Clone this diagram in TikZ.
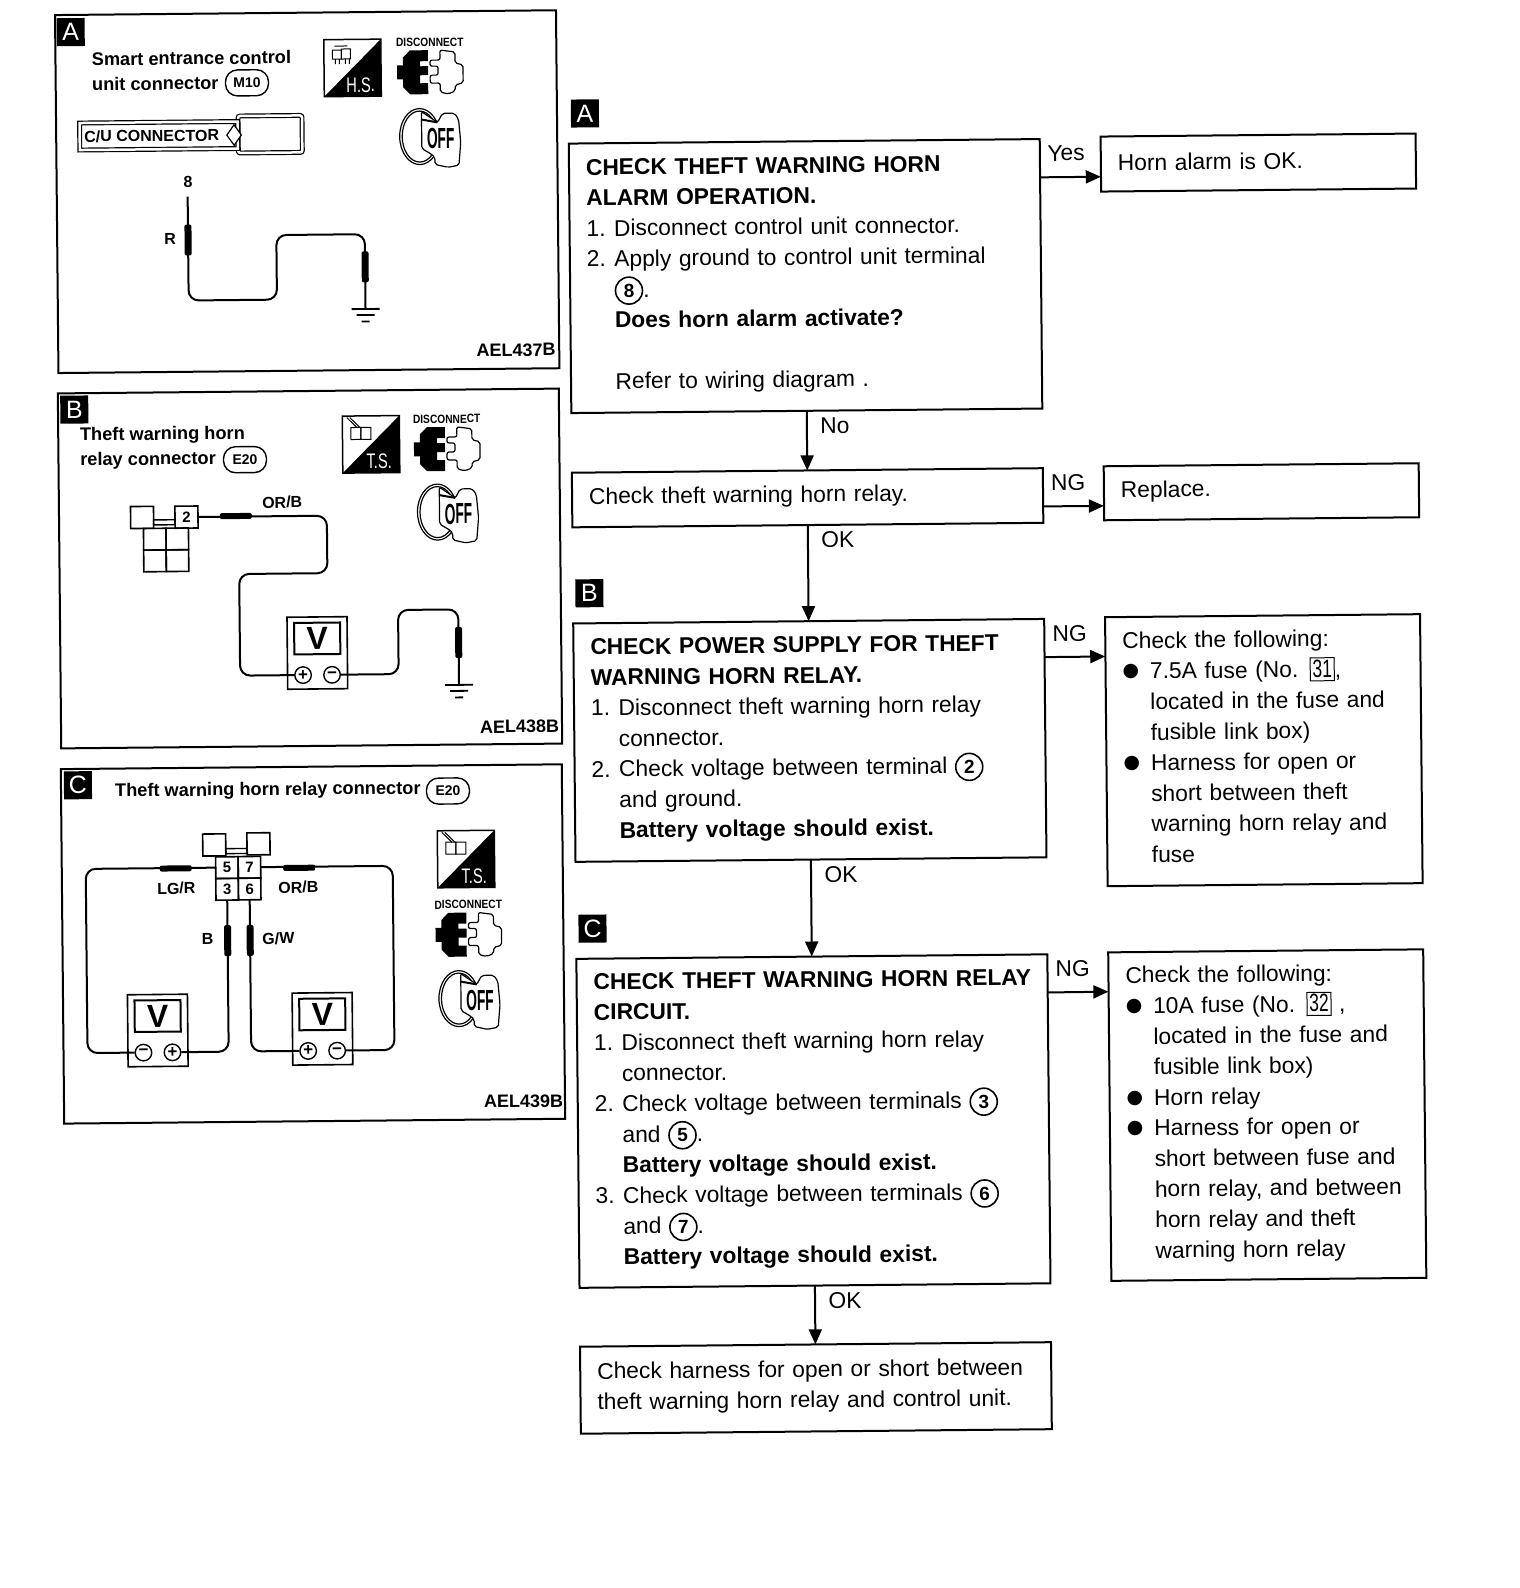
\documentclass[tikz,border=0pt]{standalone}
\usepackage{fontspec}
\setmainfont{Liberation Sans}
\newfontfamily\symfont{DejaVu Sans}
\newfontfamily\narrowfont[FakeStretch=0.7]{Liberation Sans}
\usetikzlibrary{shapes.geometric, arrows.meta, positioning}

\newcommand{\ind}{\hspace*{27.5pt}}
\newcommand{\itemno}[1]{\makebox[27.5pt][l]{#1}}
\newcommand{\cnum}[1]{\smash{\tikz[baseline=(cdigit.base)]\node[draw, circle, line width=1.6pt, inner sep=0pt, minimum width=27pt, minimum height=27pt, font=\fontsize{19}{19}\selectfont\bfseries] (cdigit) {#1};}}
\newcommand{\bul}{\makebox[27.5pt][l]{\raisebox{2.5pt}{\symfont\fontsize{19}{19}\selectfont ●}}}
\newcommand{\fuseno}[1]{\smash{\setlength{\fboxsep}{0pt}\setlength{\fboxrule}{1pt}\fbox{\makebox[23pt]{\narrowfont\fontsize{25}{25}\selectfont\rule[-3pt]{0pt}{22pt}#1}}}}

\tikzset{
    flowbox/.style={draw, line width=2pt, align=left, inner xsep=17pt, inner ysep=0pt, outer sep=0pt,
        font=\fontsize{22.8}{30.6}\selectfont, execute at end node={\par\vspace*{3pt}}},
    mainbox/.style={flowbox, text width=437pt},
    fixbox/.style={flowbox, text width=281pt},
    tagbox/.style={fill=black, text=white, inner sep=0pt, outer sep=0pt, minimum width=28pt, minimum height=28pt,
        font=\fontsize{25}{25}\selectfont},
    flowarrow/.style={line width=2pt, -{Triangle[length=15pt,width=13pt]}},
    flowlabel/.style={inner sep=0pt, font=\fontsize{22.8}{23}\selectfont},
    panel/.style={draw, line width=2pt, minimum width=501pt, inner sep=0pt, outer sep=0pt},
    panelhead/.style={anchor=west, align=left, inner sep=0pt, font=\fontsize{18.2}{25}\selectfont\bfseries},
    ovaltag/.style={draw, line width=1.4pt, rounded corners=12pt, minimum width=43pt, minimum height=26pt, inner sep=0pt,
        font=\fontsize{14}{14}\selectfont\bfseries},
    wirelabel/.style={inner sep=0pt, font=\fontsize{16}{16}\selectfont\bfseries},
    figcode/.style={anchor=east, inner sep=0pt, font=\fontsize{18}{18}\selectfont\bfseries},
    wire/.style={line width=2pt, rounded corners=10pt},
    vprobe/.style={fill=black, rounded corners=2pt, minimum width=7pt, minimum height=31pt, inner sep=0pt},
    hprobe/.style={fill=black, rounded corners=2pt, minimum width=32pt, minimum height=6pt, inner sep=0pt},
    pincell/.style={draw, line width=1.6pt, minimum width=22.5pt, minimum height=21.7pt, inner sep=0pt, outer sep=0pt,
        font=\fontsize{15}{15}\selectfont\bfseries},
    pincap/.style={draw, line width=1.6pt, minimum width=23pt, minimum height=22pt, inner sep=0pt, outer sep=0pt,
        font=\fontsize{15}{15}\selectfont\bfseries},
    pinbar/.style={draw, line width=1.4pt, minimum width=21.5pt, minimum height=5pt, inner sep=0pt, outer sep=0pt},
    termnode/.style={draw, circle, fill=white, line width=1.4pt, minimum size=16.5pt, inner sep=0pt,
        font=\fontsize{17}{17}\selectfont\bfseries},
    meter/.pic={
        \node[draw, line width=1.6pt, minimum width=60pt, minimum height=72pt, inner sep=0pt] (-case) at (0,0) {};
        \node[draw, line width=2pt, minimum width=46pt, minimum height=31.5pt, inner sep=0pt,
              font=\fontsize{32}{32}\selectfont\bfseries] (-face) at (0,-14.5) {V};
        \node[termnode] (-p) at ({-14.5*#1},22) {+};
        \node[termnode] (-m) at ({14.5*#1},22) {−};
    },
    groundsym/.pic={
        \coordinate (-top) at (0,0);
        \draw[line width=1.8pt] (-14,0) -- (14,0);
        \draw[line width=1.8pt] (-9,6) -- (9,6);
        \draw[line width=1.8pt] (-4,12.5) -- (4,12.5);
    },
    discon/.pic={
        \node[inner sep=0pt, xscale=0.85, font=\fontsize{12}{12}\selectfont\bfseries] (-text) at (0,-30) {DISCONNECT};
        \fill (-2,-22) -- (-2,-11) -- (-10,-11) -- (-10,-6) -- (-2,-6) -- (-2,3) -- (-10,3) -- (-10,11) -- (-2,11)
            -- (-2,22) -- (-20,22) -- (-27,15) -- (-27,7) -- (-33,7) -- (-33,-7) -- (-27,-7) -- (-27,-15) -- (-20,-22) -- cycle;
        \draw[line width=1.2pt, fill=white, rounded corners=2pt] (10,-22) -- (25,-20) -- (25,-9) -- (33,-7) -- (33,11)
            -- (25,13) -- (25,19) -- (18,22) -- (10,20) -- (10,11) -- (0,11) -- (0,3) -- (8,3) -- (8,-6) -- (0,-6)
            -- (0,-12) -- (10,-12) -- cycle;
    },
    offkey/.pic={
        \draw[line width=1.2pt] (-10,-1) ellipse [x radius=20, y radius=28];
        \draw[line width=1.2pt] (-10,-1) ellipse [x radius=17.5, y radius=25.5];
        \draw[line width=1.2pt, fill=white, rounded corners=2pt] (-8,-26) -- (-8,11) -- (2,17) -- (5,20) -- (5,27)
            -- (18,30) -- (29,28) -- (31,5) -- (29,-18) -- (25,-24) -- (13,-24) -- (8,-15) -- cycle;
        \draw[line width=2pt] (-8,-18) -- (8,-15);
        \node[inner sep=0pt, xscale=0.68, font=\narrowfont\fontsize{29}{29}\selectfont\bfseries] (-text) at (11,1) {OFF};
    },
    toolframe/.pic={
        \node[draw, line width=1.5pt, minimum size=57pt, inner sep=0pt] (-frame) at (0,0) {};
        \fill (28.5,-28.5) -- (28.5,28.5) -- (-28.5,28.5) -- cycle;
        \node[text=white, inner sep=0pt, font=\narrowfont\fontsize{21}{21}\selectfont] (-text) at (8,17) {#1};
    },
    hsicon/.pic={
        \pic {toolframe=H.S.};
        \draw[line width=1pt] (-20,-18) rectangle (-11,-9);
        \draw[line width=1pt] (-11,-19) rectangle (-2,-9);
        \draw[line width=1pt] (-18,-22) -- (-5,-22);
        \draw[line width=1pt] (-17,-9) -- (-17,-4);
        \draw[line width=1pt] (-13,-9) -- (-13,-4);
        \draw[line width=1pt] (-7,-9) -- (-7,-4);
        \draw[line width=1pt] (-3,-9) -- (-3,-4);
    },
    tsicon/.pic={
        \pic {toolframe=T.S.};
        \draw[line width=1pt] (-20,-17) rectangle (-10,-5);
        \draw[line width=1pt] (-10,-17) rectangle (0,-5);
        \draw[line width=1pt] (-24,-27) -- (-14,-17);
        \draw[line width=1pt] (-21,-27) -- (-11,-17);
    }
}

\begin{document}
\begin{tikzpicture}[x=1pt, y=-1pt]
    \useasboundingbox (0,0) rectangle (1520,1588);
    \begin{scope}[rotate around={0.55:(760,794)}, transform shape]

    \node[panel, minimum height=358pt] (panelA) at (313,187.3) {};
    \node[panel, minimum height=355pt, below=20.4pt of panelA, xshift=-0.8pt] (panelB) {};
    \node[panel, minimum height=354.5pt, below=20.8pt of panelB, xshift=-0.6pt] (panelC) {};

    \node[tagbox] (tagPanelA) at (78,25.5) {A};
    \node[panelhead] (headA) at (98.7,65.2) {Smart entrance control\\unit connector};
    \node[ovaltag] (ovalA) at (253.8,77.9) {M10};
    \pic (toolA) at (359.5,64) {hsicon};
    \pic (disA) at (437,69) {discon};
    \pic (keyA) at (436,134.3) {offkey};
    \node[draw, double, double distance=2.5pt, line width=1.2pt, rounded corners=2pt, minimum width=64pt, minimum height=37pt, inner sep=0pt] (cuTab) at (276.5,129.5) {};
    \node[draw, double, double distance=2.5pt, line width=1.2pt, fill=white, minimum width=158pt, minimum height=27pt, inner sep=0pt] (cuBody) at (165,130) {};
    \node[inner sep=0pt, font=\fontsize{16}{16}\selectfont\bfseries] (cuText) at (158,130) {C/U CONNECTOR};
    \node[draw, diamond, line width=1.2pt, fill=white, minimum width=15pt, minimum height=21pt, inner sep=0pt] (cuDiamond) at (240.4,130) {};
    \node[wirelabel] (pinA) at (194,176) {8};
    \node[wirelabel] (colorA) at (175.5,233.7) {R};
    \coordinate (tipA) at (193.4,191.2);
    \pic (groundA) at (370.2,305.2) {groundsym};
    \draw[wire] (tipA) -- (193.4,295) -| (281.7,230.4) -| (groundA-top);
    \node[vprobe] (probeA1) at (193.4,234.5) {};
    \node[vprobe] (probeA2) at (370.2,263) {};
    \node[figcode] (codeA) at (560,347.7) {AEL437B};

    \node[tagbox] (tagPanelB) at (78,403) {B};
    \node[panelhead] (headB) at (83.3,442) {Theft warning horn\\relay connector};
    \node[ovaltag] (ovalB) at (248.2,454.7) {E20};
    \pic (toolB) at (374.4,440.6) {tsicon};
    \pic (disB) at (450.3,446) {discon};
    \pic (keyB) at (450.2,510) {offkey};
    \node[pincap] (capB1) at (144.75,511.5) {};
    \node[pincap] (capB2) at (189.15,511.6) {2};
    \node[pinbar] (barB) at (166.9,516.6) {};
    \node[pincell] (cellB1) at (157.25,533.4) {};
    \node[pincell, right=0pt of cellB1] (cellB2) {};
    \node[pincell, below=0pt of cellB1] (cellB3) {};
    \node[pincell, right=0pt of cellB3] (cellB4) {};
    \node[wirelabel] (colorB) at (285,497.7) {OR/B};
    \pic (meterB) at (318.7,648.7) {meter=1};
    \pic (groundB) at (460.1,682) {groundsym};
    \draw[wire] (capB2.east) -| (329.5,569) -| (241.3,620) |- (meterB-p);
    \draw[wire] (meterB-m) -| (399.8,606.5) -| (groundB-top);
    \node[hprobe] (probeB1) at (238.5,511) {};
    \node[vprobe] (probeB2) at (460.1,639.6) {};
    \node[figcode] (codeB) at (560,724.3) {AEL438B};

    \node[tagbox] (tagPanelC) at (78,778.7) {C};
    \node[panelhead] (headC) at (115,786) {Theft warning horn relay connector};
    \node[ovaltag] (ovalC) at (448,788) {E20};
    \pic (toolC) at (465.4,856.2) {tsicon};
    \pic (disC) at (467.2,931.8) {discon};
    \pic (keyC) at (467,996.7) {offkey};
    \node[pincap] (capC1) at (213.75,839.7) {};
    \node[pincap] (capC2) at (258,839) {};
    \node[pinbar] (barC) at (236,846) {};
    \node[pincell] (cell5) at (226.25,862.5) {5};
    \node[pincell, right=0pt of cell5] (cell7) {7};
    \node[pincell, below=0pt of cell5] (cell3) {3};
    \node[pincell, right=0pt of cell3] (cell6) {6};
    \pic (meterL) at (155.5,1024.7) {meter=-1};
    \pic (meterR) at (320.2,1024.6) {meter=1};
    \draw[wire] (cell5.west) -| (85,950) |- (meterL-m);
    \draw[wire] (cell7.east) -| (392,950) |- (meterR-m);
    \draw[wire] (cell3.south) |- (meterL-p);
    \draw[wire] (cell6.south) |- (meterR-p);
    \node[hprobe] (probeC1) at (175,862.8) {};
    \node[hprobe] (probeC2) at (298.5,863.4) {};
    \node[vprobe] (probeC3) at (226.25,935.5) {};
    \node[vprobe] (probeC4) at (248.75,935.5) {};
    \node[wirelabel] (colorC1) at (175.4,882.7) {LG/R};
    \node[wirelabel] (colorC2) at (297.4,882.9) {OR/B};
    \node[wirelabel] (colorC3) at (206.3,934) {B};
    \node[wirelabel] (colorC4) at (277,933.7) {G/W};
    \node[figcode] (codeC) at (560.3,1099) {AEL439B};

    \node[mainbox, minimum height=269.5pt] (mainA) at (810.5,276.5) {
      \textbf{CHECK THEFT WARNING HORN}\\
      \textbf{ALARM OPERATION.}\\
      \itemno{1.}Disconnect control unit connector.\\
      \itemno{2.}Apply ground to control unit terminal\\
      \ind\cnum{8}.\\
      \ind\textbf{Does horn alarm activate?}\\[30.6pt]
      \ind Refer to wiring diagram .
    };
    \node[mainbox, minimum height=54.6pt, below=59.7pt of mainA] (relay) {
      Check theft warning horn relay.
    };
    \node[mainbox, minimum height=238.4pt, below=96.2pt of relay] (mainB) {
      \textbf{CHECK POWER SUPPLY FOR THEFT}\\
      \textbf{WARNING HORN RELAY.}\\
      \itemno{1.}Disconnect theft warning horn relay\\
      \ind connector.\\
      \itemno{2.}Check voltage between terminal \cnum{2}\\
      \ind and ground.\\
      \ind\textbf{Battery voltage should exist.}
    };
    \node[mainbox, minimum height=329pt, below=97.1pt of mainB] (mainC) {
      \mbox{\textbf{CHECK THEFT WARNING HORN RELAY}}\\
      \textbf{CIRCUIT.}\\
      \itemno{1.}Disconnect theft warning horn relay\\
      \ind connector.\\
      \itemno{2.}Check voltage between terminals \cnum{3}\\
      \ind and \cnum{5}.\\
      \ind\textbf{Battery voltage should exist.}\\
      \itemno{3.}Check voltage between terminals \cnum{6}\\
      \ind and \cnum{7}.\\
      \ind\textbf{Battery voltage should exist.}
    };
    \node[mainbox, minimum height=87pt, below=59pt of mainC] (harness) {
      Check harness for open or short between\\
      theft warning horn relay and control unit.
    };

    \node[fixbox, minimum height=55pt, above right=1.9pt and 61pt of mainA.north east, anchor=north west] (okBox) {
      Horn alarm is OK.
    };
    \node[fixbox, minimum height=54pt, above right=1.3pt and 61pt of relay.north east, anchor=north west] (replaceBox) {
      Replace.
    };
    \node[fixbox, minimum height=269pt, above right=1.1pt and 61pt of mainB.north east, anchor=north west,
          execute at end node={\vspace*{5pt}}] (fixB) {
      Check the following:\\
      \bul 7.5A fuse (No. \fuseno{31},\\
      \ind located in the fuse and\\
      \ind fusible link box)\\
      \bul Harness for open or\\
      \ind short between theft\\
      \ind warning horn relay and\\
      \ind fuse
    };
    \node[fixbox, minimum height=328.5pt, above right=1.3pt and 61pt of mainC.north east, anchor=north west] (fixC) {
      Check the following:\\
      \bul 10A fuse (No. \fuseno{32} ,\\
      \ind located in the fuse and\\
      \ind fusible link box)\\
      \bul Horn relay\\
      \bul Harness for open or\\
      \ind short between fuse and\\
      \ind horn relay, and between\\
      \ind horn relay and theft\\
      \ind warning horn relay
    };

    \node[tagbox, above right=16pt and 2.5pt of mainA.north west] (tagFlowA) {A};
    \node[tagbox, above right=16pt and 2.5pt of mainB.north west] (tagFlowB) {B};
    \node[tagbox, above right=16pt and 2.5pt of mainC.north west] (tagFlowC) {C};

    \draw[flowarrow] (mainA.south) -- node[flowlabel, pos=0.26, right=12.5pt] (lblNo) {No} (relay.north);
    \draw[flowarrow] (relay.south) -- node[flowlabel, pos=0.155, right=12.5pt] (lblOkA) {OK} (mainB.north);
    \draw[flowarrow] (mainB.south) -- node[flowlabel, pos=0.155, right=12.5pt] (lblOkB) {OK} (mainC.north);
    \draw[flowarrow] (mainC.south) -- node[flowlabel, pos=0.265, right=12.5pt] (lblOkC) {OK} (harness.north);

    \path (mainA.north east) ++(0,38.3) coordinate (yesOut);
    \path (okBox.north west) ++(0,40.2) coordinate (yesIn);
    \path (relay.north east) ++(0,38.3) coordinate (relayOut);
    \path (replaceBox.north west) ++(0,39.7) coordinate (relayIn);
    \path (mainB.north east) ++(0,38.3) coordinate (mainBOut);
    \path (fixB.north west) ++(0,39.4) coordinate (mainBIn);
    \path (mainC.north east) ++(0,38.3) coordinate (mainCOut);
    \path (fixC.north west) ++(0,39.5) coordinate (mainCIn);
    \draw[flowarrow] (yesOut) -- node[flowlabel, above=15pt, xshift=-4pt] (lblYes) {Yes} (yesIn);
    \draw[flowarrow] (relayOut) -- node[flowlabel, above=14.5pt, xshift=-5pt] (lblNgA) {NG} (relayIn);
    \draw[flowarrow] (mainBOut) -- node[flowlabel, above=14.5pt, xshift=-5pt] (lblNgB) {NG} (mainBIn);
    \draw[flowarrow] (mainCOut) -- node[flowlabel, above=14.5pt, xshift=-5pt] (lblNgC) {NG} (mainCIn);
    \end{scope}
\end{tikzpicture}
\end{document}
